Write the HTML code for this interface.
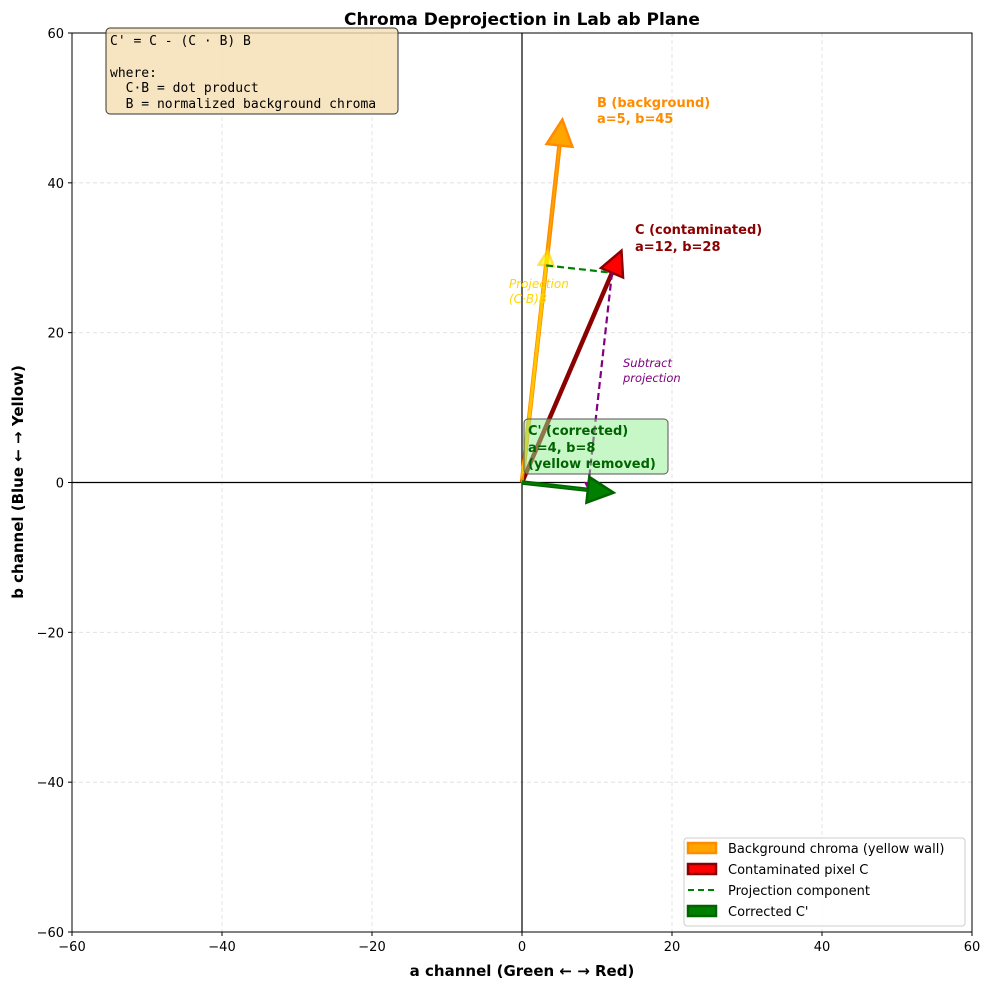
<!DOCTYPE html>
<html><head><meta charset="utf-8"><style>
body{margin:0;background:#fff;font-family:"DejaVu Sans","Liberation Sans",sans-serif;}
svg text{font-family:"DejaVu Sans","Liberation Sans",sans-serif;}
</style></head><body>
<svg id="chart" width="990" height="989" xmlns="http://www.w3.org/2000/svg">
<rect width="990" height="989" fill="#fff"/>
<g id="grid"></g>
<g id="axes"></g>
<g id="marks"></g>
<text x="522" y="25" text-anchor="middle" font-size="17" font-weight="bold">Chroma Deprojection in Lab ab Plane</text>
<text x="522" y="976" text-anchor="middle" font-size="15" font-weight="bold">a channel (Green ← → Red)</text>
<text transform="translate(23,482) rotate(-90)" text-anchor="middle" font-size="15" font-weight="bold">b channel (Blue ← → Yellow)</text>
<g>
<rect x="106" y="28" width="292" height="86" rx="4" fill="#f5deb3" fill-opacity="0.8" stroke="#333" stroke-width="1"/>
<text font-size="13" x="110" y="45" style="font-family:'DejaVu Sans Mono','Liberation Mono',monospace">C' = C - (C · B) B</text>
<text font-size="13" x="110" y="77" style="font-family:'DejaVu Sans Mono','Liberation Mono',monospace">where:</text>
<text font-size="13" x="110" y="92" style="font-family:'DejaVu Sans Mono','Liberation Mono',monospace" xml:space="preserve">  C·B = dot product</text>
<text font-size="13" x="110" y="108" style="font-family:'DejaVu Sans Mono','Liberation Mono',monospace" xml:space="preserve">  B = normalized background chroma</text>
</g>
<g>
<rect x="684" y="838" width="281" height="88" rx="3" fill="#fff" fill-opacity="0.85" stroke="#ccc"/>
<rect x="688" y="843" width="28" height="10" fill="#ffa500" stroke="#ff8c00" stroke-width="2.5"/>
<text x="728" y="853" font-size="13">Background chroma (yellow wall)</text>
<rect x="688" y="864" width="28" height="10" fill="#ff0000" stroke="#8b0000" stroke-width="2.5"/>
<text x="728" y="874" font-size="13">Contaminated pixel C</text>
<line x1="688" y1="890" x2="716" y2="890" stroke="green" stroke-width="2" stroke-dasharray="6,4"/>
<text x="728" y="895" font-size="13">Projection component</text>
<rect x="688" y="906" width="28" height="10" fill="#008000" stroke="#006400" stroke-width="2.5"/>
<text x="728" y="916" font-size="13">Corrected C'</text>
</g>
<script>
const xTicks=[-60,-40,-20,0,20,40,60];
const yTicks=[-60,-40,-20,0,20,40,60];
const bgVec=[5,45];
const pixVec=[12,28];
const ns="http://www.w3.org/2000/svg";
const L=72,R=972,T=33,B=932;
const X=v=>L+(v+60)/120*(R-L);
const Y=v=>B-(v+60)/120*(B-T);
function el(tag,attrs,parent,txt){const e=document.createElementNS(ns,tag);for(const k in attrs)e.setAttribute(k,attrs[k]);if(txt!==undefined)e.textContent=txt;parent.appendChild(e);return e;}
const g=document.getElementById('grid'),ax=document.getElementById('axes'),m=document.getElementById('marks');
xTicks.forEach(t=>{
 const l=el('line',{x1:X(t),x2:X(t),y1:T,y2:B,stroke:'#ddd','stroke-dasharray':'4,3','stroke-width':0.8},g);
 
 el('line',{x1:X(t),x2:X(t),y1:B,y2:B+4,stroke:'#000'},ax);
 const tx=el('text',{x:X(t),y:B+19,'text-anchor':'middle','font-size':13},ax,t<0?'−'+(-t):String(t));
 
});
yTicks.forEach(t=>{
 const l=el('line',{y1:Y(t),y2:Y(t),x1:L,x2:R,stroke:'#ddd','stroke-dasharray':'4,3','stroke-width':0.8},g);
 
 el('line',{y1:Y(t),y2:Y(t),x1:L-4,x2:L,stroke:'#000'},ax);
 const tx=el('text',{x:L-8,y:Y(t)+5,'text-anchor':'end','font-size':13},ax,t<0?'−'+(-t):String(t));
 
});
el('rect',{x:L,y:T,width:R-L,height:B-T,fill:'none',stroke:'#000','stroke-width':1},ax);
el('line',{x1:X(0),x2:X(0),y1:T,y2:B,stroke:'#000','stroke-width':1.2},ax);
el('line',{y1:Y(0),y2:Y(0),x1:L,x2:R,stroke:'#000','stroke-width':1.2},ax);

function arrow(v0,v1,fill,stroke,sw,hl,hw,name,op,inner){
 const x0=X(v0[0]),y0=Y(v0[1]),x1=X(v1[0]),y1=Y(v1[1]);
 const dx=x1-x0,dy=y1-y0,len=Math.hypot(dx,dy),ux=dx/len,uy=dy/len,px=-uy,py=ux;
 const grp=el('g',{opacity:op||1},m);
 
 el('line',{x1:x0,y1:y0,x2:x1,y2:y1,stroke:stroke,'stroke-width':sw},grp);
 if(inner) el('line',{x1:x0,y1:y0,x2:x1,y2:y1,stroke:fill,'stroke-width':inner},grp);
 const pts=[[x1+px*hw/2,y1+py*hw/2],[x1+ux*hl,y1+uy*hl],[x1-px*hw/2,y1-py*hw/2]];
 el('polygon',{points:pts.map(p=>p.join(',')).join(' '),fill:fill,stroke:stroke,'stroke-width':2.5,'stroke-linejoin':'miter'},grp);
}
const nb=Math.hypot(bgVec[0],bgVec[1]);const bu=[bgVec[0]/nb,bgVec[1]/nb];
const dot=pixVec[0]*bu[0]+pixVec[1]*bu[1];
const proj=[dot*bu[0],dot*bu[1]];
const corr=[pixVec[0]-proj[0],pixVec[1]-proj[1]];
arrow([0,0],bgVec,'#ffa500','#ff8c00',4.5,26,26,'background-arrow-b',1,1.5);
arrow([0,0],pixVec,'#ff0000','#8b0000',4.5,24,24,'contaminated-arrow-c',1,0);
arrow([0,0],proj,'#ffff00','#ffd700',3,15,15,'projection-arrow',0.7,0);
let d=el('line',{x1:X(proj[0]),y1:Y(proj[1]),x2:X(pixVec[0]),y2:Y(pixVec[1]),stroke:'green','stroke-width':2.2,'stroke-dasharray':'7,4'},m);

d=el('line',{x1:X(pixVec[0]),y1:Y(pixVec[1]),x2:X(corr[0]),y2:Y(corr[1]),stroke:'purple','stroke-width':2.2,'stroke-dasharray':'7,4'},m);

el('polygon',{points:[[X(corr[0])-4,Y(corr[1])-8],[X(corr[0])+4,Y(corr[1])-7],[X(corr[0]),Y(corr[1])]].map(p=>p.join(',')).join(' '),fill:'purple'},m);
arrow([0,0],corr,'#008000','#006400',4.5,26,26,'corrected-arrow',1,1.5);
function txt(x,y,s,col,fs,extra,name){const t=el('text',Object.assign({x:x,y:y,fill:col,'font-size':fs},extra||{}),m,s);return t;}
txt(597,107,'B (background)','#ff8c00',13,{'font-weight':'bold'},'label-b');
txt(597,123,'a=5, b=45','#ff8c00',13,{'font-weight':'bold'},'label-b-values');
txt(635,234,'C (contaminated)','#8b0000',13,{'font-weight':'bold'},'label-c');
txt(635,251,'a=12, b=28','#8b0000',13,{'font-weight':'bold'},'label-c-values');
txt(509,288,'Projection','#ffd700',12,{'font-style':'italic'},'label-projection');
txt(509,303,'(C·B)B','#ffd700',12,{'font-style':'italic'},'label-projection-formula');
txt(623,367,'Subtract','purple',11.5,{'font-style':'italic'},'label-subtract');
txt(623,382,'projection','purple',11.5,{'font-style':'italic'},'label-subtract-2');
const bx=el('rect',{x:524,y:419,width:144,height:55,rx:4,fill:'#90ee90','fill-opacity':0.5,stroke:'#555'},m);

txt(528,435,"C' (corrected)",'#006400',13,{'font-weight':'bold'},'label-corrected');
txt(528,452,'a=4, b=8','#006400',13,{'font-weight':'bold'},'label-corrected-values');
txt(528,468,'(yellow removed)','#006400',13,{'font-weight':'bold'},'label-corrected-note');
</script>
</svg>
</body></html>
